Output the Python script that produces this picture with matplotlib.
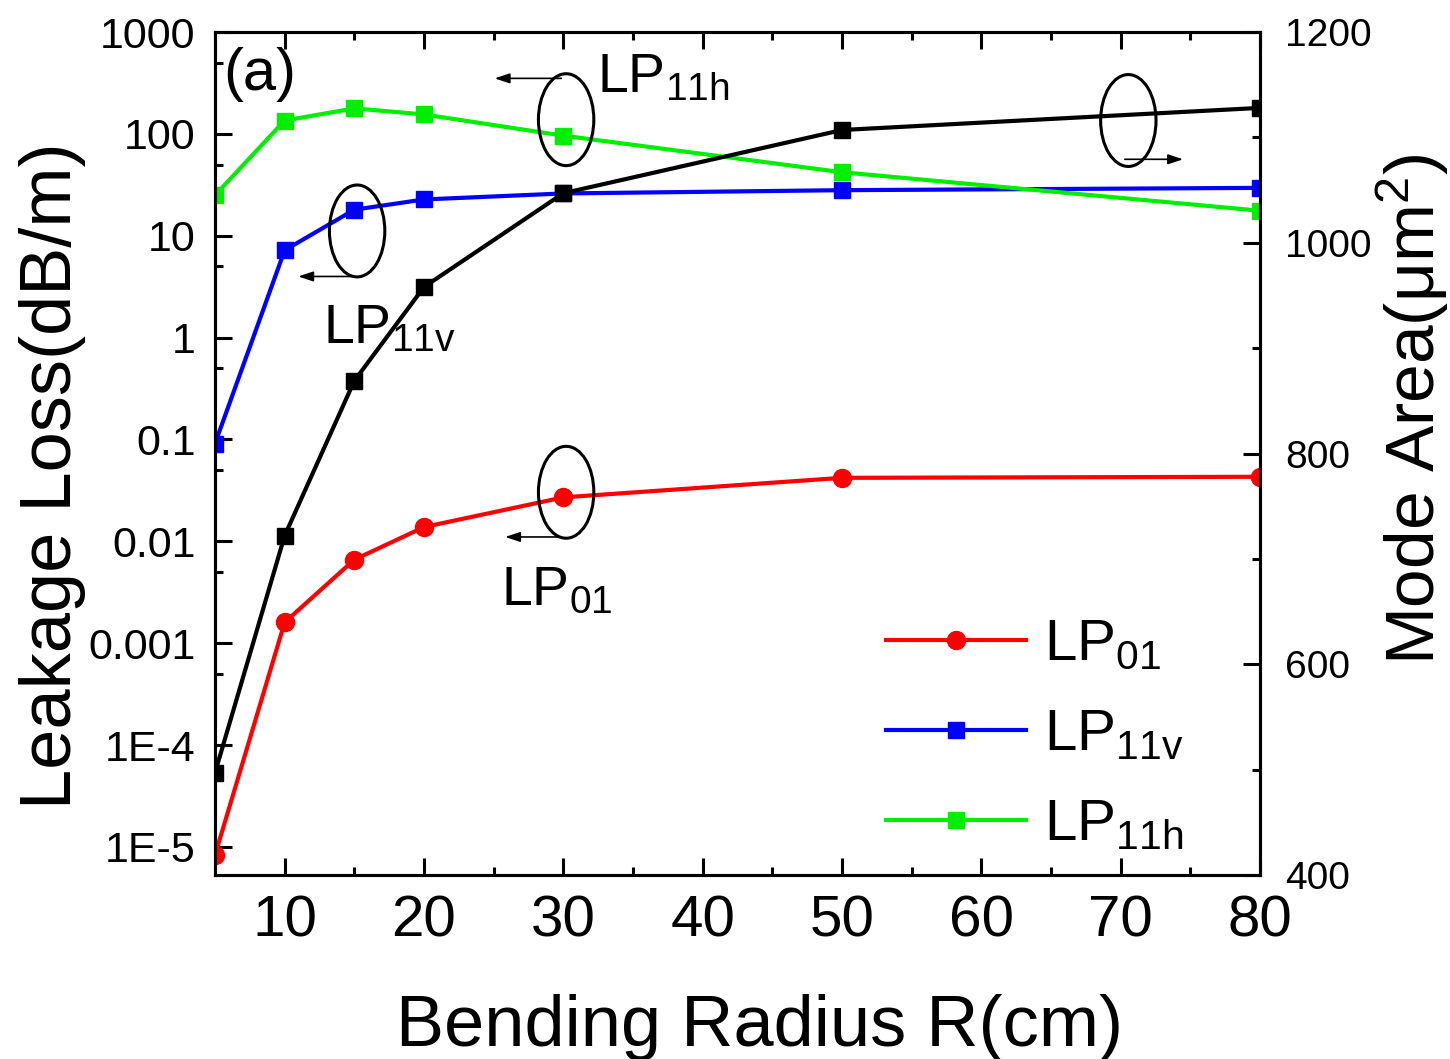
import matplotlib
matplotlib.use("Agg")
import matplotlib.pyplot as plt
from matplotlib.patches import Ellipse
from matplotlib.ticker import FixedLocator, NullFormatter

plt.rcParams["font.family"] = ["Liberation Sans", "DejaVu Sans"]
plt.rcParams["mathtext.fontset"] = "custom"
plt.rcParams["mathtext.rm"] = "Liberation Sans"
plt.rcParams["mathtext.it"] = "Liberation Sans"

# ── data ────────────────────────────────────────────────────────────────
radius = [5, 10, 15, 20, 30, 50, 80]
loss_lp01 = [8.3e-6, 1.6e-3, 6.6e-3, 0.0138, 0.027, 0.042, 0.043]
loss_lp11v = [0.091, 7.2, 18, 22.7, 26, 28, 29.5]
loss_lp11h = [25, 135, 178, 155, 96, 42, 17.6]
mode_area = [497, 722, 869, 958, 1047, 1107, 1128]

left_ticks = [1e-5, 1e-4, 1e-3, 1e-2, 0.1, 1, 10, 100, 1000]
left_labels = ["1E-5", "1E-4", "0.001", "0.01", "0.1", "1", "10", "100", "1000"]
right_ticks = [400, 600, 800, 1000, 1200]
x_ticks = [10, 20, 30, 40, 50, 60, 70, 80]

fig = plt.figure(figsize=(14.5, 10.59), dpi=100)
ax = fig.add_axes([215 / 1450, 1 - 875 / 1059, 1045 / 1450, 843 / 1059])
ax2 = ax.twinx()

lw = 3.0
ax.plot(radius, loss_lp01, color="#ff0000", lw=lw, marker="o", ms=13, label=r"LP$_{01}$")
ax.plot(radius, loss_lp11v, color="#0000ff", lw=lw, marker="s", ms=12, label=r"LP$_{11v}$")
ax.plot(radius, loss_lp11h, color="#00ee00", lw=lw, marker="s", ms=12, label=r"LP$_{11h}$")
ax2.plot(radius, mode_area, color="black", lw=lw, marker="s", ms=12)

ax.set_yscale("log")
ax.set_xlim(5, 80)
ax.set_ylim(10 ** -5.276, 1000)
ax2.set_ylim(400, 1200)

ax.set_yticks(left_ticks)
ax.set_yticklabels(left_labels)
ax.yaxis.set_minor_locator(FixedLocator([5 * t for t in left_ticks[:-1]]))
ax.yaxis.set_minor_formatter(NullFormatter())
ax.set_xticks(x_ticks)
ax.xaxis.set_minor_locator(FixedLocator([15, 25, 35, 45, 55, 65, 75]))
ax2.set_yticks(right_ticks)
ax2.yaxis.set_minor_locator(FixedLocator([500, 700, 900, 1100]))

for a in (ax, ax2):
    for s in a.spines.values():
        s.set_linewidth(2.2)
ax.tick_params(which="both", direction="in", top=True, right=False, width=2.2)
ax.tick_params(which="major", length=12)
ax.tick_params(which="minor", length=6)
ax.tick_params(axis="y", labelsize=31, pad=14)
ax.tick_params(axis="x", labelsize=42, pad=14)
ax2.tick_params(which="both", direction="in", width=2.2, labelsize=28, pad=18)
ax2.tick_params(which="major", length=12)
ax2.tick_params(which="minor", length=6)

ax.set_xlabel("Bending Radius R(cm)", fontsize=52)
ax.xaxis.set_label_coords(0.5215, -0.141)
ax.set_ylabel("Leakage Loss(dB/m)", fontsize=52)
ax.yaxis.set_label_coords(-0.1234, 0.474)
ax2.set_ylabel(r"Mode Area($\mathregular{\mu m^2}$)", fontsize=50)
ax2.yaxis.set_label_coords(1.109, 0.552)

# ── annotations (ellipse + arrow + mode name) ───────────────────────────
def mark(cx, cy, x0, x1, ya, text=None, tx=None, ty=None):
    ax.add_patch(Ellipse((cx, cy), 0.053, 0.109, transform=ax.transAxes,
                         fill=False, ec="black", lw=2.2, zorder=5))
    ax.annotate("", xy=(x1, ya), xytext=(x0, ya), xycoords="axes fraction",
                arrowprops=dict(arrowstyle="-|>,head_length=0.9,head_width=0.3",
                                color="black", lw=1.2))
    if text:
        ax.text(tx, ty, text, transform=ax.transAxes, fontsize=40, va="baseline")

mark(0.336, 0.896, 0.334, 0.265, 0.945, r"LP$_{11h}$", 0.366, 0.928)
mark(0.136, 0.764, 0.136, 0.077, 0.710, r"LP$_{11v}$", 0.103, 0.631)
mark(0.336, 0.454, 0.332, 0.275, 0.401, r"LP$_{01}$", 0.274, 0.320)
mark(0.874, 0.895, 0.868, 0.929, 0.849)

ax.text(0.008, 0.982, "(a)", transform=ax.transAxes, fontsize=43, va="top")

ax.legend(loc="upper left", bbox_to_anchor=(886 / 1450, 1 - 618 / 1059),
          bbox_transform=fig.transFigure, frameon=False, fontsize=42,
          handlelength=2.4, handletextpad=0.3, labelspacing=0.62,
          borderpad=0, borderaxespad=0, numpoints=1)

fig.savefig("out.png", dpi=100, facecolor="white")
